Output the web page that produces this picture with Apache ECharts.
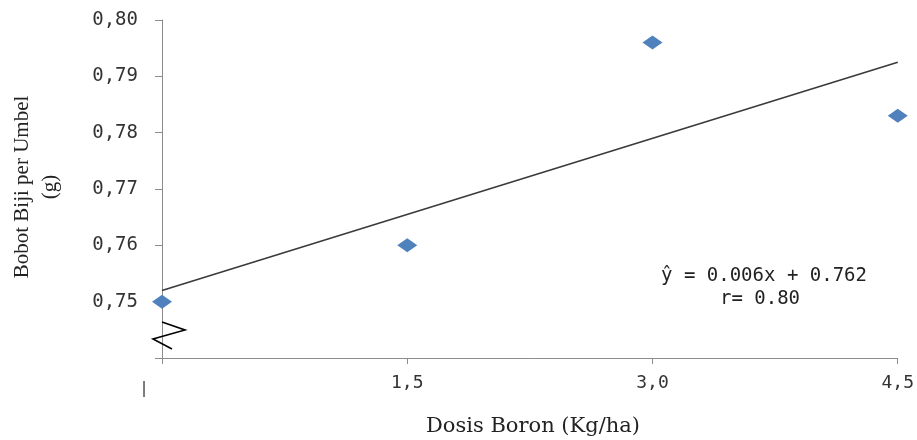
<!DOCTYPE html>
<html>
<head>
<meta charset="utf-8">
<script src="https://cdn.jsdelivr.net/npm/echarts@6/dist/echarts.min.js"></script>
<style>html,body{margin:0;padding:0;background:#fff}#c{width:917px;height:440px}</style>
</head>
<body>
<div id="c"></div>
<script>
const doseX = [0, 1.5, 3.0, 4.5];
const seedWeight = [0.750, 0.760, 0.796, 0.783];
const trendX = [0, 4.5];
const trendY = [0.752, 0.7925];
const yTicks = [0.74, 0.75, 0.76, 0.77, 0.78, 0.79, 0.80];
const xTickLabels = {'0': '', '1.5': '1,5', '3': '3,0', '4.5': '4,5'};
const equationText = 'ŷ = 0.006x + 0.762';
const rText = 'r= 0.80';

const chart = echarts.init(document.getElementById('c'), null, {renderer: 'canvas'});
const axisColor = '#8c8c8c';
const monoFont = '"DejaVu Sans Mono", monospace';
const serifFont = '"Liberation Serif", "Times New Roman", serif';

chart.setOption({
  animation: false,
  backgroundColor: '#fff',
  grid: {left: 162, right: 15, top: 20, bottom: 82, containLabel: false},
  xAxis: {
    type: 'value', min: 0, max: 4.5, interval: 1.5,
    axisLine: {show: true, lineStyle: {color: axisColor, width: 1}},
    axisTick: {show: true, length: 6, lineStyle: {color: axisColor}},
    splitLine: {show: false},
    axisLabel: {
      margin: 16, color: '#333', fontFamily: monoFont, fontSize: 18,
      formatter: v => xTickLabels[String(v)] !== undefined ? xTickLabels[String(v)] : ''
    }
  },
  yAxis: {
    type: 'value', min: yTicks[0], max: yTicks[yTicks.length - 1], interval: 0.01,
    axisLine: {show: true, lineStyle: {color: axisColor, width: 1}},
    axisTick: {show: true, length: 7, lineStyle: {color: axisColor}},
    splitLine: {show: false},
    axisLabel: {
      margin: 24, color: '#333', fontFamily: monoFont, fontSize: 19,
      formatter: v => (Math.abs(v - yTicks[0]) < 1e-9) ? '' : v.toFixed(2).replace('.', ',')
    }
  },
  series: [
    {
      type: 'line', data: trendX.map((x, i) => [x, trendY[i]]),
      showSymbol: false, symbol: 'none',
      lineStyle: {color: '#3a3a3a', width: 1.6}, z: 2, silent: true
    },
    {
      type: 'scatter', data: doseX.map((x, i) => [x, seedWeight[i]]),
      symbol: 'diamond', symbolSize: [20, 14],
      itemStyle: {color: '#4F81BD', opacity: 1}, z: 3
    }
  ],
  graphic: [
    {type: 'polyline', shape: {points: [[162, 322], [185, 330], [153, 339], [172, 349]]},
     style: {stroke: '#000', lineWidth: 1.6, fill: null}, z: 10},
    {type: 'text', x: 144, y: 389, style: {text: '|', fill: '#333', font: '15px ' + monoFont, align: 'center', verticalAlign: 'middle'}},
    {type: 'text', x: 533, y: 427, style: {text: 'Dosis Boron (Kg/ha)', fill: '#222', font: '21px "DejaVu Serif", serif', align: 'center', verticalAlign: 'middle'}},
    {type: 'text', x: 36, y: 187, rotation: Math.PI / 2,
     style: {text: 'Bobot Biji per Umbel\n(g)', fill: '#222', font: '21px ' + serifFont, lineHeight: 28, align: 'center', verticalAlign: 'middle'}},
    {type: 'text', x: 764, y: 276, style: {text: equationText, fill: '#222', font: '19px ' + monoFont, align: 'center', verticalAlign: 'middle'}},
    {type: 'text', x: 760, y: 299, style: {text: rText, fill: '#222', font: '19px ' + monoFont, align: 'center', verticalAlign: 'middle'}}
  ]
});
</script>
</body>
</html>
